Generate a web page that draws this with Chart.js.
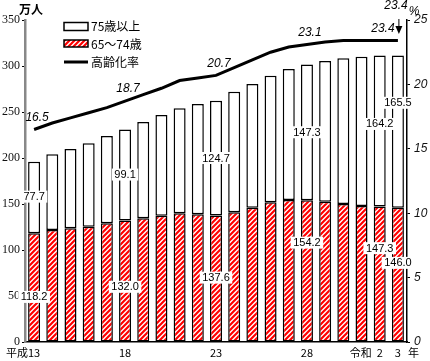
<!DOCTYPE html>
<html>
<head>
<meta charset="utf-8">
<script src="https://cdn.jsdelivr.net/npm/chart.js@4"></script>
<style>
  html, body { margin: 0; padding: 0; background: #fff; }
  #wrap { width: 430px; height: 361px; }
</style>
</head>
<body>
<div id="wrap"><canvas id="chart" width="430" height="361"></canvas></div>
<script>
// years: 平成13 .. 令和3
var xLabels = ['平成13', '', '', '', '', '18', '', '', '', '', '23', '', '', '', '', '28', '', '', '', '令和 2', '3 年'];
// 65～74歳 (万人)
var young = [118.2, 121.7, 123.6, 125.4, 129.0, 132.0, 134.4, 137.3, 139.9, 138.8, 137.6,
	141.0, 146.0, 151.8, 154.3, 154.2, 152.5, 150.0, 147.8, 147.3, 146.0];
// 75歳以上 (万人)
var old = [77.7, 82.3, 86.2, 90.6, 95.0, 99.1, 104.6, 109.4, 114.1, 119.9, 124.7,
	131.0, 134.4, 137.7, 142.4, 147.3, 152.9, 158.4, 162.3, 164.2, 165.5];
// 高齢化率 (%)
var rate = [16.5, 17.0, 17.4, 17.8, 18.2, 18.7, 19.2, 19.7, 20.3, 20.5, 20.7,
	21.3, 21.9, 22.5, 22.9, 23.1, 23.3, 23.4, 23.4, 23.4, 23.4];
var leftTicks = [0, 50, 100, 150, 200, 250, 300, 350];
var rightTicks = [0, 5, 10, 15, 20, 25];

// which bars get value boxes, and where (in 万人) the box sits
var youngLabelAt = { 0: 49, 5: 60, 10: 70, 15: 108, 19: 102, 20: 86 };
var oldLabelAt = { 0: 158, 5: 182, 10: 200, 15: 228, 19: 237, 20: 260 };
var rateLabelIdx = [0, 5, 10, 15, 20];

function hatch() {
	var c = document.createElement('canvas');
	c.width = 5; c.height = 5;
	var g = c.getContext('2d');
	g.fillStyle = '#fff';
	g.fillRect(0, 0, 5, 5);
	g.strokeStyle = '#ff0000';
	g.lineWidth = 2.2;
	g.beginPath();
	g.moveTo(-1, 1); g.lineTo(1, -1);
	g.moveTo(0, 5); g.lineTo(5, 0);
	g.moveTo(4, 6); g.lineTo(6, 4);
	g.stroke();
	return g.createPattern(c, 'repeat');
}

var ctx0 = document.getElementById('chart').getContext('2d');
var red = hatch();

var extras = {
	id: 'extras',
	afterDatasetsDraw: function (chart) {
		var ctx = chart.ctx;
		var x = chart.scales.x, y = chart.scales.y, y2 = chart.scales.y2;
		ctx.save();

		// value boxes on bars
		ctx.font = '11px "Liberation Sans", Arial, sans-serif';
		ctx.textAlign = 'center';
		ctx.textBaseline = 'middle';
		function box(txt, cx, cy) {
			var w = ctx.measureText(txt).width + 5;
			ctx.fillStyle = '#fff';
			ctx.fillRect(cx - w / 2, cy - 6, w, 12);
			ctx.fillStyle = '#000';
			ctx.fillText(txt, cx, cy + 0.5);
		}
		Object.keys(youngLabelAt).forEach(function (k) {
			var i = +k;
			box(young[i].toFixed(1), x.getPixelForValue(i), y.getPixelForValue(youngLabelAt[k]));
		});
		Object.keys(oldLabelAt).forEach(function (k) {
			var i = +k;
			box(old[i].toFixed(1), x.getPixelForValue(i), y.getPixelForValue(oldLabelAt[k]));
		});

		// rate labels
		ctx.font = 'italic 12px "Liberation Sans", Arial, sans-serif';
		rateLabelIdx.forEach(function (i) {
			var px = x.getPixelForValue(i) + 3;
			if (i === rate.length - 1) px -= 18;
			ctx.fillText(rate[i].toFixed(1), px, y2.getPixelForValue(rate[i]) - 12);
		});
		// callout top right
		ctx.fillText(rate[rate.length - 1].toFixed(1), 396, 6);
		var ax = x.getPixelForValue(rate.length - 1) + 1;
		ctx.strokeStyle = '#000';
		ctx.lineWidth = 1;
		ctx.beginPath(); ctx.moveTo(ax, 19); ctx.lineTo(ax, 28); ctx.stroke();
		ctx.fillStyle = '#000';
		ctx.beginPath(); ctx.moveTo(ax - 3.5, 26); ctx.lineTo(ax + 3.5, 26); ctx.lineTo(ax, 34); ctx.closePath(); ctx.fill();
		ctx.fillText('%', 414, 12);

		// unit
		ctx.font = 'bold 12px "Noto Sans CJK JP", sans-serif';
		ctx.fillText('万人', 31, 9);

		// legend
		var lx = 64, lw = 24;
		ctx.font = '12px "Noto Sans CJK JP", "Liberation Sans", sans-serif';
		ctx.textAlign = 'left';
		ctx.lineWidth = 1.5;
		ctx.fillStyle = '#fff';
		ctx.fillRect(lx, 22.5, lw, 8); ctx.strokeRect(lx, 22.5, lw, 8);
		ctx.fillStyle = red;
		ctx.fillRect(lx, 40, lw, 7);
		ctx.strokeRect(lx, 40, lw, 7);
		ctx.lineWidth = 3;
		ctx.beginPath(); ctx.moveTo(lx, 62); ctx.lineTo(lx + lw, 62); ctx.stroke();
		ctx.fillStyle = '#000';
		ctx.fillText(chart.data.datasets[2].label, 91, 26.5);
		ctx.fillText(chart.data.datasets[1].label, 91, 44);
		ctx.fillText(chart.data.datasets[0].label, 91, 62);

		// x labels: number centred under bar, prefix/suffix beside it
		ctx.font = '11px "Noto Sans CJK JP", "Liberation Sans", sans-serif';
		xLabels.forEach(function (lab, i) {
			if (!lab) return;
			var m = lab.match(/^(\D*?)\s*(\d+)\s*(\D*)$/);
			var cx = x.getPixelForValue(i);
			var nw = ctx.measureText(m[2]).width;
			ctx.textAlign = 'center';
			ctx.fillText(m[2], cx, 353);
			if (m[1]) { ctx.textAlign = 'right'; ctx.fillText(m[1], cx - nw / 2 - (lab.indexOf(' ') > 0 ? 5 : 0), 353); }
			if (m[3]) { ctx.textAlign = 'left'; ctx.fillText(m[3], cx + nw / 2 + 7, 353); }
		});
		ctx.restore();
	}
};

new Chart(ctx0, {
	type: 'bar',
	data: {
		labels: xLabels,
		datasets: [
			{
				type: 'line',
				label: '高齢化率',
				data: rate,
				yAxisID: 'y2',
				borderColor: '#000',
				borderWidth: 3,
				pointRadius: 0,
				tension: 0,
				order: 0
			},
			{
				label: '65～74歳',
				data: young,
				yAxisID: 'y',
				backgroundColor: red,
				borderColor: '#000',
				borderWidth: 1.5,
				borderSkipped: false,
				barPercentage: 0.66,
				categoryPercentage: 1,
				order: 1
			},
			{
				label: '75歳以上',
				data: old,
				yAxisID: 'y',
				backgroundColor: '#fff',
				borderColor: '#000',
				borderWidth: 1.5,
				borderSkipped: false,
				barPercentage: 0.66,
				categoryPercentage: 1,
				order: 1
			}
		]
	},
	options: {
		responsive: false,
		animation: false,
		layout: { padding: { top: 20, left: 0, right: 0, bottom: 0 } },
		plugins: { legend: { display: false }, tooltip: { enabled: false } },
		scales: {
			x: {
				stacked: true,
				offset: true,
				grid: { display: false },
				border: { color: '#000', width: 1.5 },
				ticks: { display: false },
				afterFit: function (s) { s.height = 19; }
			},
			y: {
				stacked: true,
				position: 'left',
				min: 0, max: 350,
				afterBuildTicks: function (s) { s.ticks = leftTicks.map(function (v) { return { value: v }; }); },
				grid: { drawOnChartArea: false, tickLength: 3, color: '#000' },
				border: { color: '#888', width: 2.5 },
				ticks: { padding: 2, color: '#111', font: { family: '"Liberation Serif", serif', size: 12 } },
				afterFit: function (s) { s.width = 25; }
			},
			y2: {
				position: 'right',
				min: 0, max: 25,
				afterBuildTicks: function (s) { s.ticks = rightTicks.map(function (v) { return { value: v }; }); },
				grid: { drawOnChartArea: false, tickLength: 3, color: '#000' },
				border: { color: '#000', width: 1.5 },
				ticks: { padding: 4, color: '#111', font: { family: '"Liberation Sans", Arial, sans-serif', size: 12, style: 'italic' } },
				afterFit: function (s) { s.width = 23; }
			}
		}
	},
	plugins: [extras]
});
</script>
</body>
</html>
